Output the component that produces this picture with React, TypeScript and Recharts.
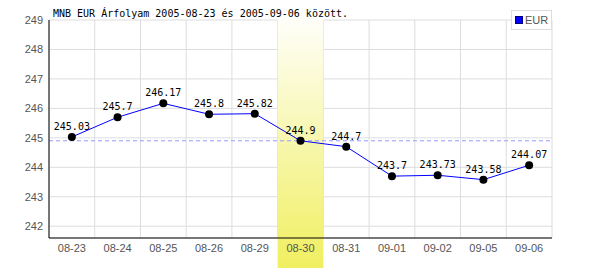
import React from "react";
import {
  CartesianGrid,
  ComposedChart,
  LabelList,
  Line,
  ReferenceArea,
  ReferenceLine,
  XAxis,
  YAxis,
} from "recharts";

// MNB EUR árfolyam, 2005-08-23 .. 2005-09-06
const DAYS = [
  "08-23", "08-24", "08-25", "08-26", "08-29", "08-30",
  "08-31", "09-01", "09-02", "09-05", "09-06",
];
const RATES = [
  245.03, 245.7, 246.17, 245.8, 245.82, 244.9,
  244.7, 243.7, 243.73, 243.58, 244.07,
];
const Y_TICKS = [242, 243, 244, 245, 246, 247, 248, 249];
const HIGHLIGHT_DAY = "08-30";
const HIGHLIGHT_RATE = 244.9;
const TITLE = "MNB EUR Árfolyam 2005-08-23 és 2005-09-06 között.";
const SERIES = "EUR";

const data = DAYS.map((day, i) => ({ day, eur: RATES[i] }));

const MONO = "'DejaVu Sans Mono', monospace";
const SANS = "'Liberation Sans', Arial, sans-serif";
const TICK = { fill: "#555", fontSize: 11, fontFamily: SANS };

// grid lines sit on the category boundaries, not the centres
function boundaries({ xAxis, offset }: any) {
  const s = xAxis?.scale;
  const apply =
    typeof s === "function" ? s : s && typeof s.map === "function" ? (v: string) => s.map(v) : null;
  if (apply && typeof s.bandwidth === "function") {
    const xs = DAYS.map((d) => apply(d));
    if (xs.every((v) => typeof v === "number" && isFinite(v))) {
      return [...xs, xs[xs.length - 1] + s.bandwidth()];
    }
  }
  const step = offset.width / DAYS.length;
  return DAYS.map((_, i) => offset.left + i * step).concat(offset.left + offset.width);
}

// the highlighted column runs above and below the plot area
function BandShape(props: any) {
  const { x, y, width, height } = props;
  return (
    <rect
      x={x}
      y={y - 10}
      width={width}
      height={height + 10 + 30}
      fill="url(#bandFill)"
    />
  );
}

export default function App() {
  return (
    <div style={{ position: "absolute", left: 0, top: 0, width: 600, height: 270, background: "#fff" }}>
      <ComposedChart
        width={600}
        height={270}
        data={data}
        margin={{ top: 20, right: 48, bottom: 0, left: 0 }}
      >
        <defs>
          <linearGradient id="bandFill" x1="0" y1="0" x2="0" y2="1">
            <stop offset="0%" stopColor="#ffffff" />
            <stop offset="100%" stopColor="#f0ef60" />
          </linearGradient>
        </defs>
        <CartesianGrid
          stroke="#ddd"
          strokeWidth={1}
          verticalCoordinatesGenerator={boundaries}
        />
        <ReferenceArea
          x1={HIGHLIGHT_DAY}
          x2={HIGHLIGHT_DAY}
          ifOverflow="visible"
          shape={<BandShape />}
        />
        <XAxis
          dataKey="day"
          scale="band"
          height={32}
          tick={TICK}
          tickLine={false}
          tickSize={4}
          tickMargin={2}
          axisLine={{ stroke: "#000" }}
          interval={0}
        />
        <YAxis
          width={49}
          domain={[241.6, 249]}
          ticks={Y_TICKS}
          tick={TICK}
          tickLine={false}
          tickSize={4}
          tickMargin={2}
          axisLine={{ stroke: "#000" }}
          allowDataOverflow
        />
        <ReferenceLine y={HIGHLIGHT_RATE} stroke="#9999ff" strokeDasharray="4 3" />
        <Line
          dataKey="eur"
          name={SERIES}
          stroke="#0000ff"
          strokeWidth={1}
          dot={{ r: 4, fill: "#000", stroke: "#000", strokeWidth: 0 }}
          activeDot={false}
          isAnimationActive={false}
        >
          <LabelList
            dataKey="eur"
            position="top"
            offset={7}
            style={{ fill: "#000", fontSize: 10, fontFamily: MONO }}
          />
        </Line>
      </ComposedChart>
      <div
        style={{
          position: "absolute",
          left: 53,
          top: 8,
          fontFamily: MONO,
          fontSize: 10,
          color: "#000",
          whiteSpace: "pre",
        }}
      >
        {TITLE}
      </div>
      <div
        style={{
          position: "absolute",
          left: 511,
          top: 10,
          width: 39,
          height: 18,
          border: "1px solid #ddd",
          background: "#fff",
          display: "flex",
          alignItems: "center",
          fontFamily: SANS,
          fontSize: 11,
          color: "#555",
        }}
      >
        <span
          style={{
            width: 6,
            height: 6,
            marginLeft: 3,
            marginRight: 2,
            background: "#0000ff",
            border: "1px solid #000080",
          }}
        />
        {SERIES}
      </div>
    </div>
  );
}
